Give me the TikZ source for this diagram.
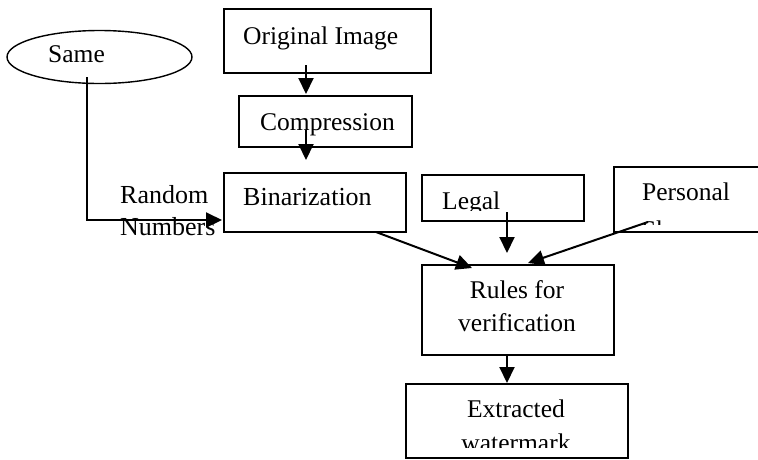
\documentclass[tikz,border=0pt]{standalone}
\usepackage{fontspec}
\setmainfont{Liberation Serif}
\usetikzlibrary{arrows.meta,shapes.geometric}
\begin{document}
\begin{tikzpicture}[x=1pt,y=-1pt,
  box/.style={draw, line width=1.8pt, inner sep=0pt, anchor=north west},
  lbl/.style={inner sep=0pt, anchor=base west, font=\fontsize{25.5}{30}\selectfont},
  tlbl/.style={inner sep=0pt, anchor=base west, font=\fontsize{26}{30}\selectfont},
  clbl/.style={inner sep=0pt, anchor=base, font=\fontsize{25.5}{30}\selectfont},
  link/.style={line width=2pt, -{Triangle[length=16pt,width=15pt]}},
]
\useasboundingbox (0,0) rectangle (758,459);

% seed ellipse
\node[draw, ellipse, line width=1.4pt, minimum width=185pt, minimum height=53pt, inner sep=0pt] (same) at (99.5,57) {};
\node[lbl] (tsame) at (48,62) {Same};

% boxes
\node[box, minimum width=207pt, minimum height=64pt] (orig) at (223,8) {};
\node[box, minimum width=173pt, minimum height=51pt] (comp) at (238,95) {};
\node[box, minimum width=182pt, minimum height=59pt] (bin) at (223,172) {};
\node[box, minimum width=162pt, minimum height=46pt] (legal) at (421,174) {};
\node[box, minimum width=160pt, minimum height=65pt] (pers) at (613,166) {};
\node[box, minimum width=192pt, minimum height=90pt] (rules) at (421,264) {};
\node[box, minimum width=222pt, minimum height=74pt] (extr) at (405,383) {};

% labels
\node[lbl] (torig) at (243,44) {Original Image};
\node[lbl] (tcomp) at (260,130) {Compression};
\node[tlbl] (tbin) at (243,205) {Binarization};
\node[tlbl] (trand) at (120,203) {Random};
\node[tlbl] (tnum) at (120,235) {Numbers};
\begin{scope}
  \clip (421,174) rectangle (583,210);
  \node[lbl] (tlegal) at (442,209) {Legal};
\end{scope}
\begin{scope}
  \clip (613,166) rectangle (758,224);
  \node[lbl] (tpers) at (642,200) {Personal};
  \node[lbl] (tshare) at (642,238) {Share};
\end{scope}
\node[clbl] (trules) at (517,298) {Rules for};
\node[clbl] (tverif) at (517,331) {verification};
\node[clbl] (textr) at (516,417) {Extracted};
\begin{scope}
  \clip (405,383) rectangle (627,447);
  \node[clbl] (twater) at (516,451) {watermark};
\end{scope}

% connector end points
\coordinate (origout) at (306,65);
\coordinate (compin) at (306,94);
\coordinate (compout) at (306,130);
\coordinate (binin) at (306,160);
\coordinate (sameout) at (87,77);
\coordinate (binleft) at (222,220);
\coordinate (binout) at (376,232);
\coordinate (rulesinA) at (472,268);
\coordinate (legalout) at (507,212);
\coordinate (rulesinB) at (507,253);
\coordinate (persout) at (648,222);
\coordinate (rulesinC) at (528,263);
\coordinate (rulesout) at (507,354);
\coordinate (extrin) at (507,383);

% connectors
\draw[link] (origout) -- (compin);
\draw[link] (compout) -- (binin);
\draw[link] (sameout) |- (binleft);
\draw[link] (binout) -- (rulesinA);
\draw[link] (legalout) -- (rulesinB);
\draw[link] (persout) -- (rulesinC);
\draw[link] (rulesout) -- (extrin);
\end{tikzpicture}
\end{document}
